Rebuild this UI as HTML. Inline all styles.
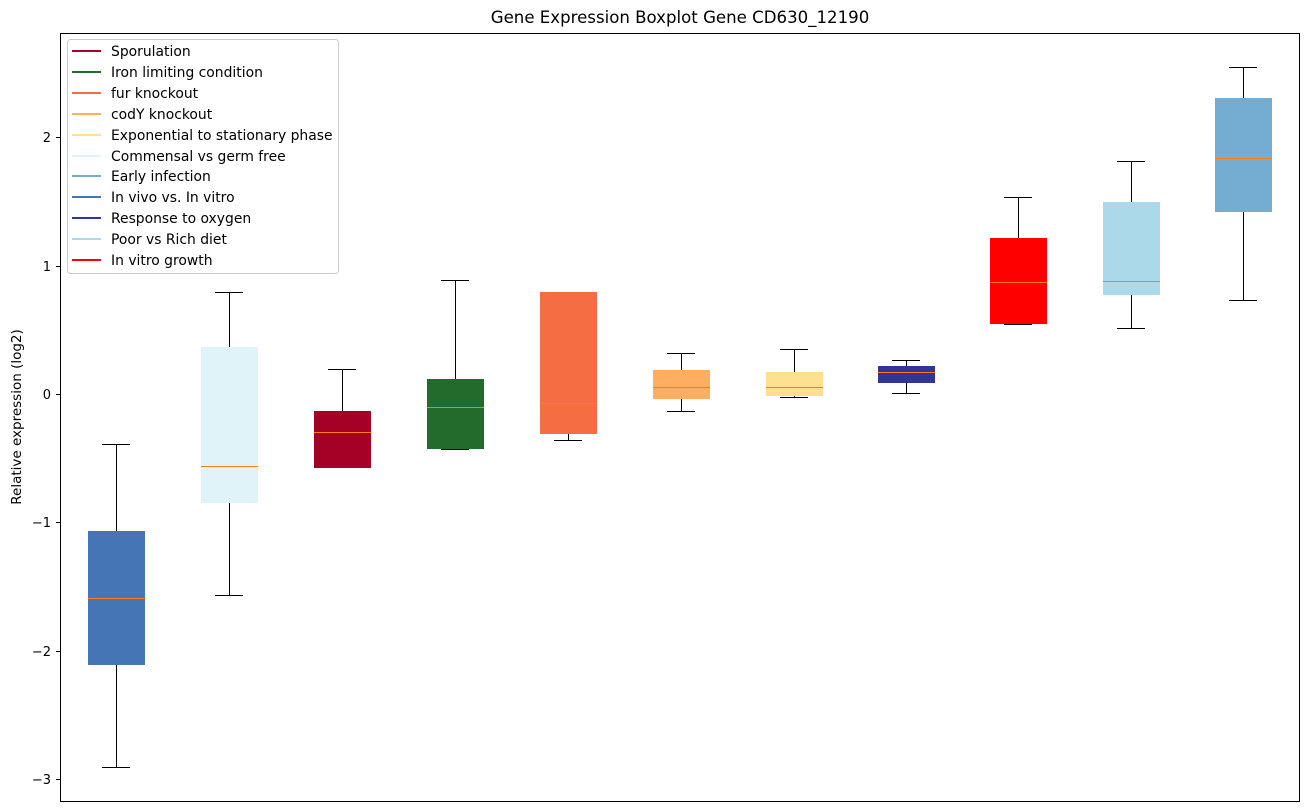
<!DOCTYPE html>
<html><head><style>body{margin:0;background:#fff}svg{display:block;font-family:"DejaVu Sans","Liberation Sans",sans-serif}</style></head><body>
<svg width="1309" height="812" xmlns="http://www.w3.org/2000/svg">
<rect width="1309" height="812" fill="#fff"/>
<text x="680" y="23" font-size="16.6" text-anchor="middle">Gene Expression Boxplot Gene CD630_12190</text>
<text transform="translate(21,417) rotate(-90)" font-size="13.5" text-anchor="middle">Relative expression (log2)</text>
<g font-size="13" text-anchor="end">
<line x1="56" x2="60" y1="137.5" y2="137.5" stroke="#000"/><text x="51" y="142">2</text>
<line x1="56" x2="60" y1="266.5" y2="266.5" stroke="#000"/><text x="51" y="271">1</text>
<line x1="56" x2="60" y1="394.5" y2="394.5" stroke="#000"/><text x="51" y="399">0</text>
<line x1="56" x2="60" y1="522.5" y2="522.5" stroke="#000"/><text x="51" y="527">−1</text>
<line x1="56" x2="60" y1="651.5" y2="651.5" stroke="#000"/><text x="51" y="656">−2</text>
<line x1="56" x2="60" y1="779.5" y2="779.5" stroke="#000"/><text x="51" y="784">−3</text>
</g>
<g stroke="#000" stroke-width="1" shape-rendering="crispEdges">
<line x1="116.5" x2="116.5" y1="444" y2="767"/><line x1="102" x2="130" y1="444.5" y2="444.5"/><line x1="102" x2="130" y1="767.5" y2="767.5"/>
<rect x="88" y="531" width="57" height="134" fill="#4575b4" stroke="none"/>
<line x1="229.5" x2="229.5" y1="292" y2="595"/><line x1="215" x2="243" y1="292.5" y2="292.5"/><line x1="215" x2="243" y1="595.5" y2="595.5"/>
<rect x="201" y="347" width="57" height="156" fill="#e0f3f8" stroke="none"/>
<line x1="342.5" x2="342.5" y1="369" y2="467"/><line x1="328" x2="356" y1="369.5" y2="369.5"/><line x1="328" x2="356" y1="467.5" y2="467.5"/>
<rect x="314" y="411" width="57" height="57" fill="#a50026" stroke="none"/>
<line x1="455.5" x2="455.5" y1="280" y2="449"/><line x1="441" x2="469" y1="280.5" y2="280.5"/><line x1="441" x2="469" y1="449.5" y2="449.5"/>
<rect x="427" y="379" width="57" height="70" fill="#226b2c" stroke="none"/>
<line x1="568.5" x2="568.5" y1="292" y2="440"/><line x1="554" x2="582" y1="292.5" y2="292.5"/><line x1="554" x2="582" y1="440.5" y2="440.5"/>
<rect x="540" y="292" width="57" height="142" fill="#f46d43" stroke="none"/>
<line x1="681.5" x2="681.5" y1="353" y2="411"/><line x1="667" x2="695" y1="353.5" y2="353.5"/><line x1="667" x2="695" y1="411.5" y2="411.5"/>
<rect x="653" y="370" width="57" height="29" fill="#fdae61" stroke="none"/>
<line x1="794.5" x2="794.5" y1="349" y2="397"/><line x1="780" x2="808" y1="349.5" y2="349.5"/><line x1="780" x2="808" y1="397.5" y2="397.5"/>
<rect x="766" y="372" width="57" height="24" fill="#fee090" stroke="none"/>
<line x1="906.5" x2="906.5" y1="360" y2="393"/><line x1="892" x2="920" y1="360.5" y2="360.5"/><line x1="892" x2="920" y1="393.5" y2="393.5"/>
<rect x="878" y="366" width="57" height="17" fill="#313695" stroke="none"/>
<line x1="1018.5" x2="1018.5" y1="197" y2="324"/><line x1="1004" x2="1032" y1="197.5" y2="197.5"/><line x1="1004" x2="1032" y1="324.5" y2="324.5"/>
<rect x="990" y="238" width="57" height="86" fill="#ff0000" stroke="none"/>
<line x1="1131.5" x2="1131.5" y1="161" y2="328"/><line x1="1117" x2="1145" y1="161.5" y2="161.5"/><line x1="1117" x2="1145" y1="328.5" y2="328.5"/>
<rect x="1103" y="202" width="57" height="93" fill="#abd9e9" stroke="none"/>
<line x1="1243.5" x2="1243.5" y1="67" y2="300"/><line x1="1229" x2="1257" y1="67.5" y2="67.5"/><line x1="1229" x2="1257" y1="300.5" y2="300.5"/>
<rect x="1215" y="98" width="57" height="114" fill="#74add1" stroke="none"/>
</g>
<g stroke="#ff7f0e" stroke-width="1" shape-rendering="crispEdges">
<line x1="88" x2="145" y1="598.5" y2="598.5"/><line x1="201" x2="258" y1="466.5" y2="466.5"/><line x1="314" x2="371" y1="432.5" y2="432.5"/><line x1="427" x2="484" y1="407.5" y2="407.5"/><line x1="540" x2="597" y1="403.5" y2="403.5"/><line x1="653" x2="710" y1="387.5" y2="387.5"/><line x1="766" x2="823" y1="387.5" y2="387.5"/><line x1="878" x2="935" y1="372.5" y2="372.5"/><line x1="990" x2="1047" y1="282.5" y2="282.5"/><line x1="1103" x2="1160" y1="281.5" y2="281.5"/><line x1="1215" x2="1272" y1="158.5" y2="158.5"/>
</g>
<rect x="60.5" y="33.5" width="1239" height="768" fill="none" stroke="#000"/>
<rect x="67.5" y="39.5" width="271" height="234" rx="3" fill="#fff" fill-opacity="0.8" stroke="#ccc"/>
<g font-size="13.9" stroke-width="2">
<line x1="72" x2="101" y1="51" y2="51" stroke="#a50026"/><text x="111" y="56">Sporulation</text>
<line x1="72" x2="101" y1="72" y2="72" stroke="#226b2c"/><text x="111" y="77">Iron limiting condition</text>
<line x1="72" x2="101" y1="93" y2="93" stroke="#f46d43"/><text x="111" y="98">fur knockout</text>
<line x1="72" x2="101" y1="114" y2="114" stroke="#fdae61"/><text x="111" y="119">codY knockout</text>
<line x1="72" x2="101" y1="135" y2="135" stroke="#fee090"/><text x="111" y="140">Exponential to stationary phase</text>
<line x1="72" x2="101" y1="156" y2="156" stroke="#e0f3f8"/><text x="111" y="161">Commensal vs germ free</text>
<line x1="72" x2="101" y1="176" y2="176" stroke="#74add1"/><text x="111" y="181">Early infection</text>
<line x1="72" x2="101" y1="197" y2="197" stroke="#4575b4"/><text x="111" y="202">In vivo vs. In vitro</text>
<line x1="72" x2="101" y1="218" y2="218" stroke="#313695"/><text x="111" y="223">Response to oxygen</text>
<line x1="72" x2="101" y1="239" y2="239" stroke="#abd9e9"/><text x="111" y="244">Poor vs Rich diet</text>
<line x1="72" x2="101" y1="260" y2="260" stroke="#ff0000"/><text x="111" y="265">In vitro growth</text>
</g>
</svg>
</body></html>
